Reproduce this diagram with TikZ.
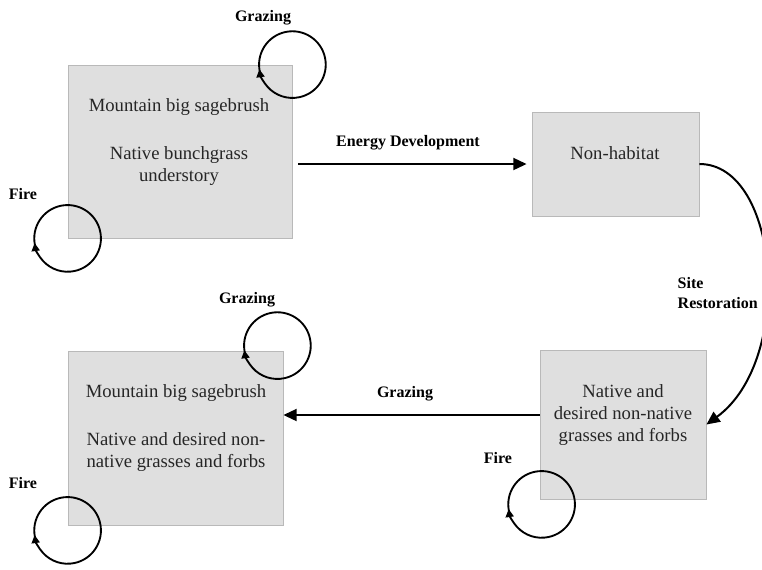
\documentclass[tikz,border=0pt]{standalone}
\usepackage{fontspec}
\setmainfont{Liberation Serif}
\usetikzlibrary{arrows.meta}

% self loop round a box corner
\newcommand{\selfloop}[1]{\draw[cycleline] (#1) ++(192:25pt) arc[start angle=192,end angle=-172,radius=25pt];}

\begin{document}
\begin{tikzpicture}[x=0.75pt,y=0.75pt,
        statebox/.style={draw=gray!55,fill=gray!25,line width=0.6pt,inner sep=0pt},
        statetext/.style={align=center,font=\fontsize{14}{16.5}\selectfont,text=black!85},
        cause/.style={font=\bfseries\fontsize{12}{14.5}\selectfont},
        transition/.style={line width=1.5pt,-{Triangle[length=10pt,width=9pt]}},
        cycleline/.style={line width=1.4pt,-{Triangle[length=6pt,width=6pt]}}]
    \useasboundingbox (0,0) rectangle (762,-569);
    % boxes
    \node[statebox,minimum width=168pt,minimum height=129.75pt] (sage1) at (180,-151.5) {};
    \node[statebox,minimum width=125.25pt,minimum height=78pt] (nonhab) at (615.5,-164) {};
    \node[statebox,minimum width=124.5pt,minimum height=111.75pt] (natgrass) at (623,-424.5) {};
    \node[statebox,minimum width=161.25pt,minimum height=130.5pt] (sage2) at (175.5,-438) {};
    % box texts
    \node[statetext] (sage1txt) at (179,-142) {Mountain big sagebrush\\[19pt]Native bunchgrass\\understory};
    \node[statetext] (nonhabtxt) at (615,-153) {Non-habitat};
    \node[statetext] (natgtxt) at (623,-415) {Native and\\desired non-native\\grasses and forbs};
    \node[statetext] (sage2txt) at (176,-428) {Mountain big sagebrush\\[19pt]Native and desired non-\\native grasses and forbs};
    % labels
    \node[cause] (graze1) at (263,-18) {Grazing};
    \node[cause] (fire1) at (23,-194) {Fire};
    \node[cause] (energy) at (408,-143) {Energy Development};
    \node[cause,align=left,anchor=west] (restore) at (673,-293) {Site\\Restoration};
    \node[cause] (graze3) at (405,-394) {Grazing};
    \node[cause] (graze2) at (247,-300) {Grazing};
    \node[cause] (fire2) at (23,-483) {Fire};
    \node[cause] (fire3) at (498,-458) {Fire};
    % transitions
    \draw[transition] ([xshift=4.5pt]sage1.east |- nonhab.west) -- ([xshift=-3.75pt]nonhab.west);
    \draw[transition] (nonhab.east) .. controls (780,-164) and (795,-360) .. (natgrass.east);
    \draw[transition] (natgrass.west |- natgtxt) -- (sage2.east |- natgtxt);
    % loops
    \coordinate (g1) at (sage1.north east);
    \coordinate (f1) at (sage1.south west);
    \coordinate (g2) at ([shift={(-6,5)}]sage2.north east);
    \coordinate (f2) at ([shift={(0,-5)}]sage2.south west);
    \coordinate (f3) at ([shift={(2,-5)}]natgrass.south west);
    \selfloop{g1}
    \selfloop{f1}
    \selfloop{g2}
    \selfloop{f2}
    \selfloop{f3}
\end{tikzpicture}
\end{document}
